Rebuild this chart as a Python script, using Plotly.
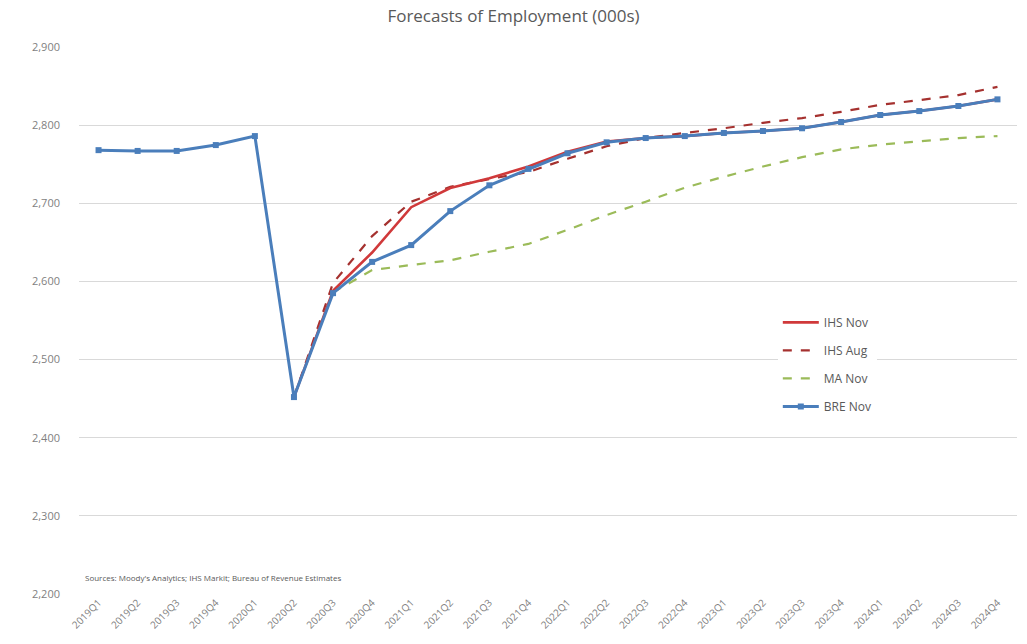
import plotly.graph_objects as go

quarters = [f"{y}Q{q}" for y in range(2019, 2025) for q in range(1, 5)]

bre_nov = [2768, 2767, 2767, 2774.5, 2786, 2452, 2585, 2625, 2646.5, 2690, 2723, 2744,
           2764, 2778, 2783.5, 2786, 2790, 2792.5, 2796, 2804, 2813, 2818, 2824.5, 2833]
ihs_nov = [None, None, None, None, None, 2452, 2588, 2637, 2695, 2719.5, 2732, 2747,
           2766, 2779, 2783.5, 2786, 2790, 2792.5, 2796, 2804, 2813, 2818, 2824.5, 2833]
ihs_aug = [None, None, None, None, None, 2452, 2598, 2658, 2702, 2721, 2731, 2740,
           2757, 2773, 2783.5, 2790, 2796, 2803, 2809, 2817, 2826, 2832, 2838.5, 2849]
ma_nov = [None, None, None, None, None, None, 2586, 2614.5, 2621, 2627, 2638, 2648,
          2666, 2685, 2702, 2720, 2734, 2747, 2759, 2769, 2775, 2779, 2783.5, 2786]

fig = go.Figure()
fig.add_trace(go.Scatter(x=quarters, y=ma_nov, name="MA Nov", mode="lines",
                         legendgroup="ma", legendrank=3,
                         line=dict(color="#9BBB59", width=2.2, dash="dash")))
fig.add_trace(go.Scatter(x=quarters, y=ihs_aug, name="IHS Aug", mode="lines",
                         legendgroup="aug", legendrank=2,
                         line=dict(color="#A5312F", width=2.2, dash="dash")))
fig.add_trace(go.Scatter(x=quarters, y=ihs_nov, name="IHS Nov", mode="lines",
                         legendgroup="nov", legendrank=1,
                         line=dict(color="#D0393A", width=2.6)))
fig.add_trace(go.Scatter(x=quarters, y=bre_nov, name="BRE Nov", mode="lines+markers",
                         legendgroup="bre", legendrank=4,
                         line=dict(color="#4A7EBB", width=3),
                         marker=dict(symbol="square", size=6, color="#4A7EBB")))

fig.update_layout(
    width=1027, height=644,
    margin=dict(l=79, r=10, t=47, b=50),
    paper_bgcolor="white", plot_bgcolor="white",
    font=dict(family="Open Sans, Liberation Sans, sans-serif", color="#595959"),
    title=dict(text="Forecasts of Employment (000s)", x=0.5, xanchor="center",
               y=0.975, yanchor="middle",
               font=dict(size=17, color="#595959")),
    showlegend=True,
    legend=dict(x=0.745, y=0.523, xanchor="left", yanchor="top",
                bgcolor="white", traceorder="grouped",
                font=dict(size=12, color="#595959"),
                itemwidth=36, tracegroupgap=9),
    xaxis=dict(type="category", range=[-0.5, 23.5], showgrid=False,
               tickangle=-45, tickfont=dict(size=10, color="#7f7f7f"),
               showline=False, ticks=""),
    yaxis=dict(range=[2200, 2900], dtick=100, tickformat=",d",
               showgrid=True, gridcolor="#d9d9d9", gridwidth=1,
               zeroline=False, tickfont=dict(size=11, color="#7f7f7f"),
               ticks="", ticklabelstandoff=18),
)

fig.add_annotation(text="Sources: Moody's Analytics; IHS Markit; Bureau of Revenue Estimates",
                   xref="paper", yref="paper", x=0.004, y=0.03, xanchor="left", yanchor="middle",
                   showarrow=False, font=dict(size=8, color="#595959"))

fig.write_html("out.html")
